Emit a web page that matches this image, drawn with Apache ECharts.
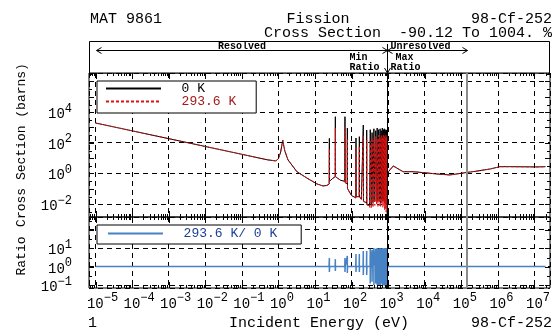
<!DOCTYPE html>
<html><head><meta charset="utf-8">
<script src="https://cdn.jsdelivr.net/npm/echarts@6.0.0/dist/echarts.min.js"></script>
<style>html,body{margin:0;padding:0;background:#fff}#c{width:556px;height:333px}</style>
</head><body><div id="c"></div>
<script>
// ---------------- data ----------------
const energyEv = [1e-5,1e-4,1e-3,1e-2,0.1,0.5,0.85,1.0,1.15,1.25,1.31,1.38,1.5,1.83,3.2,6.0,11.4,16.5,21,
 24.4,24.7,25.0,30,35.6,36.0,36.4,50,65.3,66.0,66.7,71,75.8,76.6,77.4,100,130.5,132,133.5,147,161.5,163,164.5,185,207,209,211,235,256,259,262,290,
 310,324,343,363,385,407,432,457,480,501,525,550,577,603,625,646,668,692,716,741,763,785,803,822,841,861,881,902,925,
 935,1380,2550,4800,11500,21600,49000,112000,270000,610000,1.14e6,2.1e6,1.2e7,2e7];
const xs0K = [1900,590,182,56,17.4,7.6,6.4,9,24,75,148,75,28,7.4,1.27,0.49,0.2,0.15,0.16,
 0.2,190,0.3,0.45,0.6,4900,0.6,0.35,0.3,4900,0.25,0.2,0.2,900,0.1,0.035,0.025,200,0.03,0.03,0.03,245,0.03,0.02,0.02,1400,0.015,0.012,0.012,660,0.009,0.007,
 0.008,700,0.01,450,0.012,800,0.015,600,0.02,900,0.015,700,0.02,800,0.012,600,0.02,900,0.015,700,0.02,800,0.012,600,0.015,700,0.01,650,0.008,
 1.0,3.0,1.27,1.27,1.05,0.9,0.78,1.05,1.4,1.9,2.7,2.7,2.6,2.7];
const xs294K = [1900,590,182,56,17.4,7.6,6.4,9,24,75,148,75,28,7.4,1.27,0.49,0.2,0.15,0.16,
 0.2,40,0.3,0.45,0.6,900,0.6,0.35,0.3,1000,0.25,0.2,0.2,180,0.1,0.035,0.025,45,0.03,0.03,0.03,60,0.03,0.02,0.02,250,0.015,0.012,0.012,150,0.009,0.007,
 0.006,120,0.005,200,0.006,150,0.008,250,0.01,180,0.007,300,0.008,200,0.006,280,0.01,220,0.006,300,0.008,250,0.004,200,0.005,300,0.003,250,0.0016,
 1.0,3.0,1.27,1.27,1.05,0.9,0.78,1.05,1.4,1.9,2.7,2.7,2.6,2.7];
const ratioEnergyEv = [1e-5, 24.2,24.7,24.7,25.2, 35.5,36,36,36.5, 65,66,66,67, 75.5,76.6,76.6,77.7, 130,132,132,134, 161,163,163,165, 206,209,209,212, 255,259,259,263,
 320,324,324,328, 359,363,363,367, 403,407,407,411, 452,457,457,461, 496,501,501,505, 545,550,550,555, 598,603,603,608, 641,646,646,651, 687,692,692,697, 736,741,741,746, 780,785,785,790, 818,822,822,826, 857,861,861,865, 898,902,902,906, 930, 2e7];
const ratio294over0K = [1, 1,2.9,0.5,1, 1,2.5,0.57,1, 1,2.9,0.5,1, 1,3.7,0.45,1, 1,4.7,0.5,1, 1,4.7,0.5,1, 1,6.9,0.35,1, 1,6.9,0.35,1,
 1,9,0.12,1, 1,8,0.15,1, 1,10,0.1,1, 1,9,0.12,1, 1,10,0.1,1, 1,9.5,0.1,1, 1,10,0.1,1, 1,9,0.12,1, 1,10,0.1,1, 1,9.5,0.1,1, 1,10,0.09,1, 1,9,0.1,1, 1,10,0.09,1, 1,10,0.08,1, 1, 1];
const resolvedUpperEv = 930;
const unresolvedUpperEv = 1.4e5;
const seriesNames = ['0 K', '293.6 K', '293.6 K/ 0 K'];

// ---------------- layout / style ----------------
const FONT = '"Liberation Mono", "DejaVu Sans Mono", monospace';
const X_MIN = -5.178, X_MAX = 7.424;
const Y1_MIN = -2.85, Y1_MAX = 6.54;
const Y2_MIN = -1.162, Y2_MAX = 2.676;

const toLog = (xs, ys) => xs.map((e, i) => [Math.log10(e), Math.log10(ys[i])]);

function expLabel(v, pad, hide) {
  const n = Math.round(v);
  if (Math.abs(v - n) > 1e-6 || (hide && hide.indexOf(n) >= 0)) return '';
  const exp = n < 0 ? '\u2212' + (-n) : String(n);
  return (pad ? (n < 0 ? '{q| }' : '{p| }') : '') + '{b|10}{s|' + exp + '}';
}
const rich = {
  p: {width: 7, fontSize: 12},
  q: {width: 14, fontSize: 12},
  b: {fontFamily: FONT, fontSize: 14, lineHeight: 19, verticalAlign: 'bottom', color: '#000'},
  s: {fontFamily: FONT, fontSize: 12, lineHeight: 10, verticalAlign: 'top', color: '#000'}
};

const xTicks = [];
for (let n = -6; n <= 8; n++) for (let k = 1; k <= 9; k++) {
  const v = n + Math.log10(k);
  if (v > X_MIN + 0.01 && v < X_MAX - 0.01) xTicks.push([v, k === 1 ? 6 : 3]);
}
function yTickList(lo, hi) {
  const out = [];
  for (let n = -4; n <= 8; n++) for (const k of [1, 3]) {
    const v = n + Math.log10(k);
    if (v > lo + 0.05 && v < hi - 0.05) out.push([v, k === 1 ? 5 : 3]);
  }
  return out;
}
function tickRenderer(yMin, yMax, yTicks) {
  return function (params, api) {
    const ch = [];
    const st = {stroke: '#000', lineWidth: 1};
    xTicks.forEach(([v, len]) => {
      const b = api.coord([v, yMin]), t = api.coord([v, yMax]);
      const x = Math.round(b[0]) + 0.5;
      ch.push({type: 'line', shape: {x1: x, y1: b[1], x2: x, y2: b[1] - len}, style: st});
      ch.push({type: 'line', shape: {x1: x, y1: t[1], x2: x, y2: t[1] + len}, style: st});
    });
    yTicks.forEach(([v, len]) => {
      const l = api.coord([X_MIN, v]), r = api.coord([X_MAX, v]);
      const y = Math.round(l[1]) + 0.5;
      ch.push({type: 'line', shape: {x1: l[0], y1: y, x2: l[0] + len, y2: y}, style: st});
      ch.push({type: 'line', shape: {x1: r[0], y1: y, x2: r[0] - len, y2: y}, style: st});
    });
    return {type: 'group', children: ch};
  };
}

const dashed = {show: true, lineStyle: {color: '#000', width: 1, type: [5, 4]}};
const boundaryLines = {
  silent: true, symbol: ['none', 'none'], label: {show: false}, animation: false,
  data: [
    {xAxis: Math.log10(resolvedUpperEv), lineStyle: {color: '#000', width: 1, type: 'solid'}},
    {xAxis: Math.log10(unresolvedUpperEv), lineStyle: {color: '#8c8c8c', width: 2, type: 'solid'}}
  ]
};

const chart = echarts.init(document.getElementById('c'), null, {renderer: 'canvas'});
const legendCommon = {
  orient: 'vertical', itemWidth: 55, itemHeight: 10, itemGap: 0,
  borderColor: '#000', borderWidth: 1, borderRadius: 0, backgroundColor: '#fff',
  selectedMode: false,
  itemStyle: {opacity: 0},
  formatter: name => '  ' + name,
  textStyle: {fontFamily: FONT, fontSize: 13, lineHeight: 12}
};

chart.setOption({
  animation: false,
  textStyle: {fontFamily: FONT},
  grid: [
    {left: 89, top: 73, width: 461, height: 144, show: true, borderColor: '#000', borderWidth: 1, backgroundColor: 'transparent', containLabel: false, outerBoundsMode: 'none'},
    {left: 89, top: 217, width: 461, height: 71, show: true, borderColor: '#000', borderWidth: 1, backgroundColor: 'transparent', containLabel: false, outerBoundsMode: 'none'}
  ],
  xAxis: [
    {type: 'value', gridIndex: 0, min: X_MIN, max: X_MAX, minInterval: 1, maxInterval: 1,
     axisLine: {show: false}, axisTick: {show: false}, axisLabel: {show: false}, splitLine: dashed},
    {type: 'value', gridIndex: 1, min: X_MIN, max: X_MAX, minInterval: 1, maxInterval: 1,
     axisLine: {show: false}, axisTick: {show: false}, splitLine: dashed,
     axisLabel: {show: true, margin: 4, formatter: v => expLabel(v, true), rich: rich}}
  ],
  yAxis: [
    {type: 'value', gridIndex: 0, min: Y1_MIN, max: Y1_MAX, minInterval: 2, maxInterval: 2,
     axisLine: {show: false}, axisTick: {show: false}, splitLine: dashed,
     axisLabel: {show: true, margin: 17, formatter: v => expLabel(v, false, [6]), rich: rich}},
    {type: 'value', gridIndex: 1, min: Y2_MIN, max: Y2_MAX, minInterval: 1, maxInterval: 1,
     axisLine: {show: false}, axisTick: {show: false}, splitLine: dashed,
     axisLabel: {show: true, margin: 17, formatter: v => expLabel(v, false, [2]), rich: rich}}
  ],
  legend: [
    Object.assign({}, legendCommon, {left: 97, top: 81, padding: [1, 20, 5, 8],
      data: [{name: seriesNames[0], textStyle: {color: '#000'}}, {name: seriesNames[1], textStyle: {color: '#a31a1a'}}]}),
    Object.assign({}, legendCommon, {left: 97, top: 225, padding: [2, 24, 4, 10],
      data: [{name: seriesNames[2], textStyle: {color: '#1c3f94'}}]})
  ],
  series: [
    {name: seriesNames[0], type: 'line', xAxisIndex: 0, yAxisIndex: 0, data: toLog(energyEv, xs0K),
     symbol: 'none', showSymbol: false, color: '#000', lineStyle: {color: '#000', width: 1}, z: 2,
     markLine: boundaryLines},
    {name: seriesNames[1], type: 'line', xAxisIndex: 0, yAxisIndex: 0, data: toLog(energyEv, xs294K),
     symbol: 'none', showSymbol: false, color: '#dd1111', lineStyle: {color: '#dd1111', width: 1, type: [3, 2]}, z: 3},
    {name: seriesNames[2], type: 'line', xAxisIndex: 1, yAxisIndex: 1, data: toLog(ratioEnergyEv, ratio294over0K),
     symbol: 'none', showSymbol: false, color: '#4682c4', lineStyle: {color: '#4682c4', width: 1.5}, z: 2,
     markLine: boundaryLines},
    {name: 'ticksTop', type: 'custom', xAxisIndex: 0, yAxisIndex: 0, data: [[0, 0]], silent: true, z: 6,
     renderItem: tickRenderer(Y1_MIN, Y1_MAX, yTickList(Y1_MIN, Y1_MAX))},
    {name: 'ticksBottom', type: 'custom', xAxisIndex: 1, yAxisIndex: 1, data: [[0, 0]], silent: true, z: 6,
     renderItem: tickRenderer(Y2_MIN, Y2_MAX, yTickList(Y2_MIN, Y2_MAX))}
  ]
});

// ---------------- header / titles ----------------
const xpx = v => chart.convertToPixel({xAxisIndex: 1}, Math.log10(v));
const xL = Math.round(xpx(1e-5)) + 0.5;
const xB = Math.round(xpx(resolvedUpperEv)) + 0.5;
const xU = Math.round(xpx(unresolvedUpperEv)) + 0.5;
const S = {stroke: '#000', lineWidth: 1, fill: null};
const ln = (x1, y1, x2, y2) => ({type: 'line', silent: true, shape: {x1, y1, x2, y2}, style: S});
const pl = pts => ({type: 'polyline', silent: true, shape: {points: pts}, style: S});
const tx = (text, x, y, font, align, fill, rot) => ({type: 'text', silent: true, x, y, rotation: rot || 0,
  style: {text, font, fill: fill || '#000', align, verticalAlign: 'middle'}});
const F15 = '15px ' + FONT, F14 = '13px ' + FONT, F10 = 'bold 10px ' + FONT;
const AY = 50.5;
chart.setOption({graphic: [
  {type: 'rect', silent: true, shape: {x: 89.5, y: 41.5, width: 460, height: 31.5}, style: {stroke: '#000', lineWidth: 1, fill: '#fff'}},
  ln(xL, AY, xB, AY), pl([[xL + 5, AY - 3], [xL, AY], [xL + 5, AY + 3]]), pl([[xB - 5, AY - 3], [xB, AY], [xB - 5, AY + 3]]),
  ln(xB, AY, xU, AY), pl([[xB + 5, AY - 3], [xB, AY], [xB + 5, AY + 3]]), pl([[xU - 5, AY - 3], [xU, AY], [xU - 5, AY + 3]]),
  ln(xB, 44, xB, 73), pl([[xB - 3, 68], [xB, 73], [xB + 3, 68]]),
  tx('Resolved', (xL + xB) / 2, 46, F10, 'center'),
  tx('Unresolved', xB + 3, 46, F10, 'left'),
  tx('Min', xB - 38, 57.5, F10, 'left'), tx('Ratio', xB - 38, 67.5, F10, 'left'),
  tx('Max', xB + 8, 57.5, F10, 'left'), tx('Ratio', xB + 3, 67.5, F10, 'left'),
  tx('MAT 9861', 90, 19, F15, 'left'),
  tx('Fission', 318, 19, F15, 'center'),
  tx('98-Cf-252', 552, 19, F15, 'right'),
  tx('Cross Section  -90.12 To 1004. %', 552, 33, F15, 'right'),
  tx('1', 88, 323, F15, 'left'),
  tx('Incident Energy (eV)', 319, 323, F15, 'center'),
  tx('98-Cf-252', 552, 323, F15, 'right'),
  tx('Cross Section (barns)', 22, 145, F14, 'center', '#000', Math.PI / 2),
  tx('Ratio', 22, 256, F14, 'center', '#000', Math.PI / 2)
]});
</script>
</body></html>
